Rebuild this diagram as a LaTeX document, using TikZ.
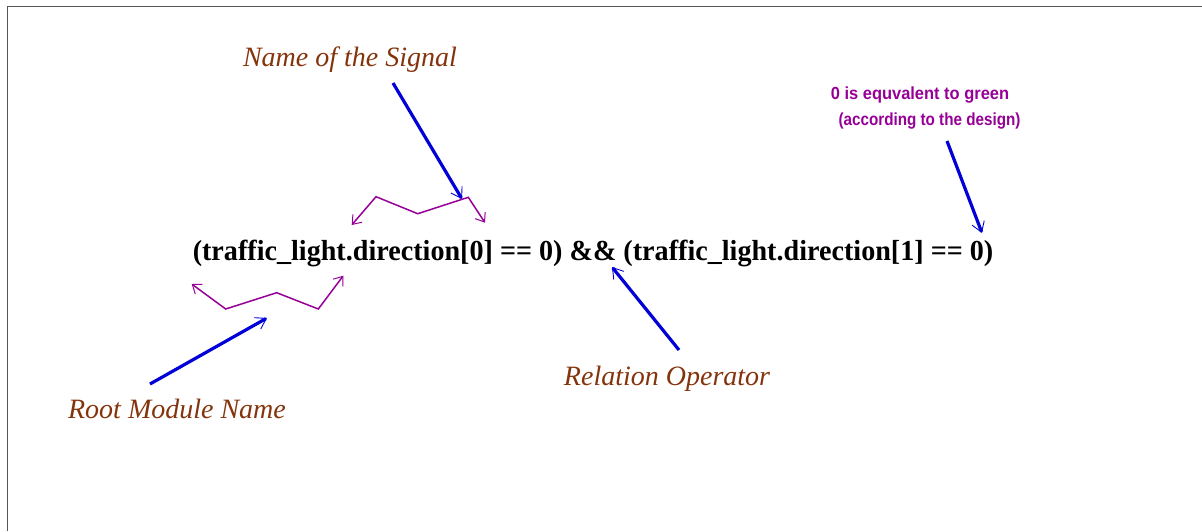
\documentclass[tikz,border=0pt]{standalone}
\usepackage{fontspec}
\setmainfont{Liberation Serif}
\setsansfont{Liberation Sans}
\usetikzlibrary{arrows.meta}
\definecolor{labelbrown}{RGB}{132,52,12}
\definecolor{notepurple}{RGB}{150,0,150}
\definecolor{pointerblue}{RGB}{0,0,215}
\definecolor{framegray}{RGB}{85,85,85}
\tikzset{
  expr/.style={font=\fontsize{29}{31}\selectfont\bfseries, inner sep=0pt},
  caption/.style={font=\fontsize{28}{30}\selectfont\itshape, text=labelbrown, inner sep=0pt},
  note/.style={font=\fontsize{17.5}{19}\selectfont\sffamily\bfseries, text=notepurple, inner sep=0pt},
  pointer/.style={draw=pointerblue, line width=3.2pt,
    -{Straight Barb[length=10pt,width=13pt,line width=0.9pt]}},
  span/.style={draw=notepurple, line width=1.5pt,
    {Straight Barb[length=8pt,width=12pt,line width=1pt]}-{Straight Barb[length=8pt,width=12pt,line width=1pt]}}
}
\begin{document}
\begin{tikzpicture}[x=1pt,y=-1pt]
\useasboundingbox (0,0) rectangle (1202,531);
% page frame
\draw[framegray, line width=1.6pt] (7.5,531) -- (7.5,6.5) -- (1202,6.5);

% the expression
\node[expr, anchor=base] (expr) at (593,260)
  {\scalebox{0.97}[1]{(traffic\_light.direction[0] == 0) \&\& (traffic\_light.direction[1] == 0)}};

% captions
\node[caption, anchor=base] (signal) at (350,66) {Name of the Signal};
\node[caption, anchor=base] (root) at (177,418) {Root Module Name};
\node[caption, anchor=base] (relop) at (667,385) {Relation Operator};
\node[note, anchor=base] (note1) at (920,99) {\scalebox{0.94}[1]{0 is equvalent to green}};
\node[note, anchor=base] (note2) at (929.5,125) {\scalebox{0.87}[1]{(according to the design)}};

% pointer arrows
\coordinate (sigfrom) at (393,83);   \coordinate (sigto) at (462,199);
\coordinate (rootfrom) at (150,384); \coordinate (rootto) at (267,318);
\coordinate (relfrom) at (679,350);  \coordinate (relto) at (612,267);
\coordinate (notefrom) at (947,141); \coordinate (noteto) at (982,233);
\draw[pointer] (sigfrom) -- (sigto);
\draw[pointer] (rootfrom) -- (rootto);
\draw[pointer] (relfrom) -- (relto);
\draw[pointer] (notefrom) -- (noteto);

% zigzag spans over the signal name and under the module name
\coordinate (s0) at (351.7,225);  \coordinate (s1) at (376,196.7);
\coordinate (s2) at (417.7,213.7); \coordinate (s3) at (468.3,197.3);
\coordinate (s4) at (485,222.7);
\draw[span] (s0) -- (s1) -- (s2) -- (s3) -- (s4);
\coordinate (m0) at (191.7,284);  \coordinate (m1) at (225.7,309);
\coordinate (m2) at (276.7,292.7); \coordinate (m3) at (318.3,309);
\coordinate (m4) at (343.3,275.7);
\draw[span] (m0) -- (m1) -- (m2) -- (m3) -- (m4);
\end{tikzpicture}
\end{document}
